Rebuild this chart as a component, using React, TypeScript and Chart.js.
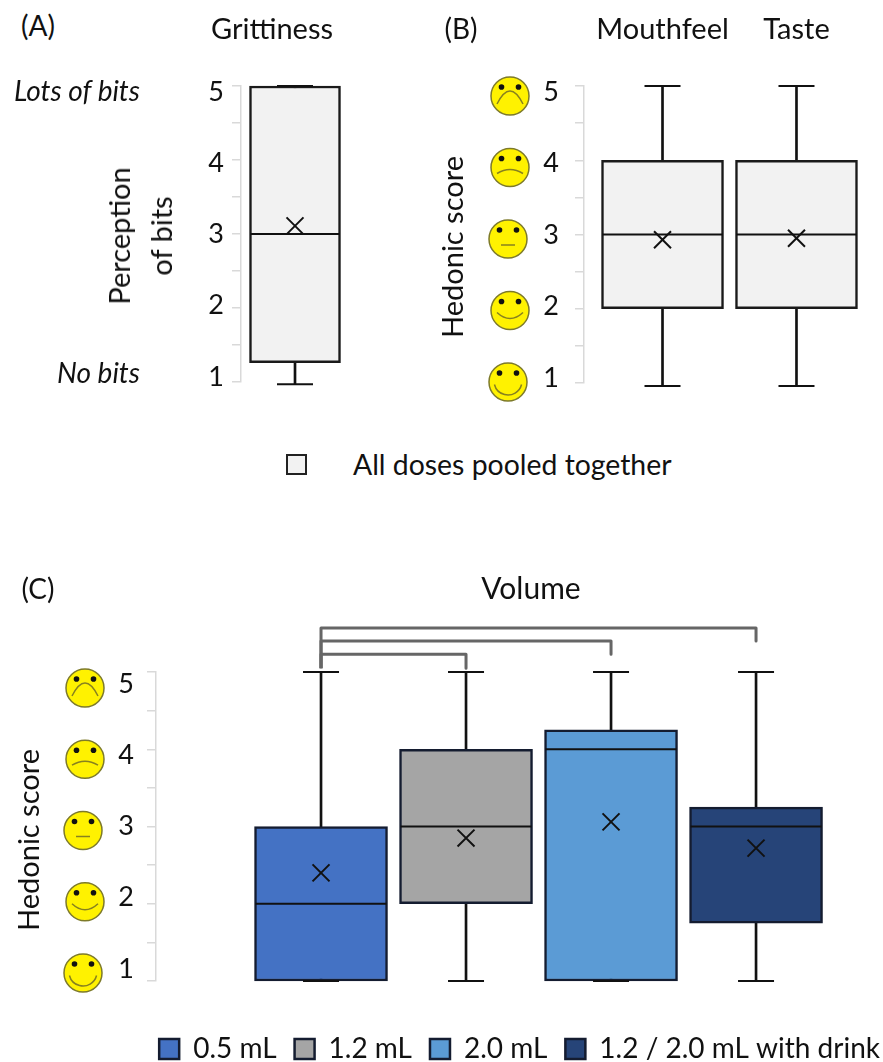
import React, { useEffect, useRef } from "react";
import { Chart, registerables } from "chart.js";

Chart.register(...registerables);

const FONT = "Lato";
const INK = "#111111";
const AXIS_GREY = "#d9d9d9";
const POOLED_FILL = "#f2f2f2";

const scores = [5, 4, 3, 2, 1];

// Panel A
const aCategories = ["Grittiness"];
const aLow = [0.97];
const aQ1 = [1.26];
const aMedian = [3];
const aQ3 = [5];
const aHigh = [5];
const aMean = [3.11];

// Panel B
const bCategories = ["Mouthfeel", "Taste"];
const bLow = [0.96, 0.96];
const bQ1 = [2, 2];
const bMedian = [3, 3];
const bQ3 = [4, 4];
const bHigh = [5, 5];
const bMean = [2.93, 2.95];

// Panel C
const cCategories = ["0.5 mL", "1.2 mL", "2.0 mL", "1.2 / 2.0 mL with drink"];
const cColors = ["#4472c4", "#a5a5a5", "#5b9bd5", "#264478"];
const cLow = [1, 1, 1, 1];
const cQ1 = [1, 2, 1, 1.75];
const cMedian = [2, 3, 4, 3];
const cQ3 = [3, 4, 4.25, 3.25];
const cHigh = [5, 5, 5, 5];
const cMean = [2.4, 2.85, 3.06, 2.72];

// significance brackets in panel C: from group 0 to each other group
const bracketTargets = [1, 2, 3];
const bracketLevels = [5.23, 5.4, 5.57];
const bracketDrops = [5.05, 5.23, 5.4];

type Stats = {
  categories: string[];
  colors: string[];
  low: number[];
  q1: number[];
  median: number[];
  q3: number[];
  high: number[];
  mean: number[];
};

function boxDatasets(s: Stats, boxWidth: number, capRadius: number, edge: string) {
  const xy = (arr: number[]) => arr.map((y, x) => ({ x, y }));
  const point = (label: string, values: number[], style: string, radius: number, width: number, order: number) => ({
    type: "scatter",
    label,
    data: xy(values),
    pointStyle: style,
    pointRadius: radius,
    pointHoverRadius: radius,
    pointBorderWidth: width,
    pointBorderColor: INK,
    pointBackgroundColor: INK,
    clip: false,
    order,
  });
  return [
    {
      type: "bar",
      label: "whisker",
      data: s.low.map((l, x) => ({ x, y: [l, s.high[x]] })),
      backgroundColor: INK,
      borderWidth: 0,
      barThickness: 2,
      grouped: false,
      clip: false,
      order: 5,
    },
    ...s.categories.map((c, i) => ({
      type: "bar",
      label: c,
      data: [{ x: i, y: [s.q1[i], s.q3[i]] }],
      backgroundColor: s.colors[i],
      borderColor: edge,
      borderWidth: 2.5,
      borderSkipped: false,
      barThickness: boxWidth,
      grouped: false,
      clip: false,
      order: 4,
    })),
    point("low cap", s.low, "line", capRadius, 2, 3),
    point("high cap", s.high, "line", capRadius, 2, 3),
    point("median", s.median, "line", boxWidth / 2 - 1, 2, 2),
    point("mean", s.mean, "crossRot", 12, 2, 1),
  ];
}

function drawFace(ctx: CanvasRenderingContext2D, x: number, y: number, score: number) {
  const r = 19;
  ctx.save();
  ctx.translate(x, y);
  ctx.beginPath();
  ctx.arc(0, 0, r, 0, Math.PI * 2);
  ctx.fillStyle = "#fff200";
  ctx.fill();
  ctx.lineWidth = 1.5;
  ctx.strokeStyle = "#7d7a2a";
  ctx.stroke();
  ctx.fillStyle = "#111111";
  for (const dx of [-8.5, 8.5]) {
    ctx.beginPath();
    ctx.arc(dx, -9, 2.8, 0, Math.PI * 2);
    ctx.fill();
  }
  ctx.beginPath();
  ctx.strokeStyle = "#87811f";
  if (score === 5) {
    ctx.moveTo(-13, 8);
    ctx.quadraticCurveTo(0, -18, 13, 8);
  } else if (score === 4) {
    ctx.moveTo(-13, 6);
    ctx.quadraticCurveTo(0, -2, 13, 6);
  } else if (score === 3) {
    ctx.moveTo(-7, 6);
    ctx.lineTo(7, 6);
  } else if (score === 2) {
    ctx.moveTo(-13, 2);
    ctx.quadraticCurveTo(0, 14, 13, 2);
  } else {
    ctx.arc(0, -1, 14, 0.08 * Math.PI, 0.92 * Math.PI);
  }
  ctx.stroke();
  ctx.restore();
}

function facesPlugin(faceX: number) {
  return {
    id: "faces",
    afterDraw(chart: any) {
      const scale = chart.scales.yLabels;
      for (const s of scores) {
        const dx = s === 3 || s === 1 ? -2 : 0;
        drawFace(chart.ctx, faceX + dx, scale.getPixelForValue(s) + 4, s);
      }
    },
  };
}

const noPadding = (s: any) => {
  s.paddingLeft = 0;
  s.paddingRight = 0;
  s.paddingTop = 0;
  s.paddingBottom = 0;
};

function yScales(labelsWidth: number, labelPad: number, labelMin: number, labelMax: number) {
  return {
    y: {
      type: "linear",
      position: "left",
      min: 1,
      max: 5,
      weight: 0,
      afterFit: (s: any) => {
        s.width = 9;
        noPadding(s);
      },
      ticks: { display: false, stepSize: 0.5 },
      border: { color: AXIS_GREY, width: 1.5 },
      grid: { drawOnChartArea: false, color: AXIS_GREY, lineWidth: 1.5, tickLength: 9 },
    },
    yLabels: {
      type: "linear",
      position: "left",
      min: labelMin,
      max: labelMax,
      weight: 1,
      afterFit: (s: any) => {
        s.width = labelsWidth;
        noPadding(s);
      },
      ticks: {
        stepSize: 1,
        includeBounds: false,
        padding: labelPad,
        color: INK,
        font: { family: FONT, size: 27 },
      },
      border: { display: false },
      grid: { display: false },
    },
  };
}

function topCategoryAxis(categories: string[], min: number, max: number, labelOffset: number) {
  return {
    type: "linear",
    position: "top",
    offset: false,
    min,
    max,
    afterFit: (s: any) => {
      s.height = 86;
      noPadding(s);
    },
    ticks: {
      stepSize: 1,
      includeBounds: false,
      autoSkip: false,
      maxRotation: 0,
      labelOffset,
      padding: 31,
      color: INK,
      font: { family: FONT, size: 29 },
      callback: (v: number) => categories[v] ?? "",
    },
    border: { display: false },
    grid: { display: false },
  };
}

const base = {
  responsive: false,
  animation: false,
  events: [],
};

function Text(p: {
  x: number;
  y: number;
  size?: number;
  italic?: boolean;
  rotate?: boolean;
  anchor?: "center" | "end" | "start";
  lines: string[];
}) {
  const shiftX = p.anchor === "end" ? "-100%" : p.anchor === "start" ? "0" : "-50%";
  return (
    <div
      style={{
        position: "absolute",
        left: p.x,
        top: p.y,
        transform: `translate(${shiftX}, -50%)${p.rotate ? " rotate(-90deg)" : ""}`,
        fontFamily: FONT,
        fontSize: p.size ?? 28,
        fontStyle: p.italic ? "italic" : "normal",
        lineHeight: p.rotate ? "42px" : "normal",
        color: INK,
        whiteSpace: "nowrap",
        textAlign: "center",
      }}
    >
      {p.lines.map((l) => (
        <div key={l}>{l}</div>
      ))}
    </div>
  );
}

export default function App() {
  const aRef = useRef<HTMLCanvasElement>(null);
  const bRef = useRef<HTMLCanvasElement>(null);
  const cRef = useRef<HTMLCanvasElement>(null);

  useEffect(() => {
    document.body.style.margin = "0";

    const chartA = new Chart(aRef.current as any, {
      data: {
        datasets: boxDatasets(
          { categories: aCategories, colors: [POOLED_FILL], low: aLow, q1: aQ1, median: aMedian, q3: aQ3, high: aHigh, mean: aMean },
          91,
          18,
          "#1a1a1a"
        ) as any,
      },
      options: {
        ...base,
        layout: { autoPadding: false, padding: { bottom: 28 } },
        plugins: { legend: { display: false }, tooltip: { enabled: false } },
        scales: {
          x: topCategoryAxis(aCategories, -1, 1.111, -23),
          ...yScales(137, 0, 0.93, 5.084),
        },
      } as any,
    });

    const chartB = new Chart(bRef.current as any, {
      data: {
        datasets: boxDatasets(
          { categories: bCategories, colors: [POOLED_FILL, POOLED_FILL], low: bLow, q1: bQ1, median: bMedian, q3: bQ3, high: bHigh, mean: bMean },
          122,
          18,
          "#1a1a1a"
        ) as any,
      },
      options: {
        ...base,
        layout: { autoPadding: false, padding: { bottom: 27 } },
        plugins: { legend: { display: false }, tooltip: { enabled: false } },
        scales: {
          x: topCategoryAxis(bCategories, -0.586, 1.586, 0),
          ...yScales(140, 8, 0.93, 5.084),
        },
      } as any,
      plugins: [facesPlugin(75)],
    });

    const bracketSets = bracketTargets.map((t, i) => ({
      type: "scatter",
      label: "bracket",
      showLine: true,
      data: [
        { x: 0, y: bracketDrops[0] },
        { x: 0, y: bracketLevels[i] },
        { x: t, y: bracketLevels[i] },
        { x: t, y: bracketDrops[i] },
      ],
      borderColor: "#666666",
      borderWidth: 3,
      borderJoinStyle: "round",
      pointRadius: 0,
      clip: false,
      order: 6,
    }));

    const chartC = new Chart(cRef.current as any, {
      data: {
        datasets: [
          ...boxDatasets(
            { categories: cCategories, colors: cColors, low: cLow, q1: cQ1, median: cMedian, q3: cQ3, high: cHigh, mean: cMean },
            133,
            18,
            "#141c30"
          ),
          ...bracketSets,
        ] as any,
      },
      options: {
        ...base,
        layout: { autoPadding: false, padding: { top: 72, bottom: 0 } },
        plugins: {
          tooltip: { enabled: false },
          legend: {
            position: "bottom",
            align: "end",
            labels: {
              filter: (item: any) => cCategories.includes(item.text),
              boxWidth: 20,
              boxHeight: 20,
              padding: 18,
              color: INK,
              font: { family: FONT, size: 28 },
            },
          },
        },
        scales: {
          x: {
            type: "linear",
            position: "bottom",
            offset: false,
            min: -1.138,
            max: 3.979,
            afterFit: (s: any) => {
              s.height = 36;
              noPadding(s);
            },
            ticks: { display: false, stepSize: 1 },
            border: { display: false },
            grid: { display: false },
          },
          ...yScales(147, 5, 0.832, 5.168),
        },
      } as any,
      plugins: [facesPlugin(85)],
    });

    return () => {
      chartA.destroy();
      chartB.destroy();
      chartC.destroy();
    };
  }, []);

  const canvasStyle = (left: number, top: number): React.CSSProperties => ({ position: "absolute", left, top });

  return (
    <div style={{ position: "relative", width: 883, height: 1062, overflow: "hidden", background: "#fff" }}>
      <canvas ref={aRef} width={260} height={410} style={canvasStyle(95, 0)} />
      <canvas ref={bRef} width={440} height={410} style={canvasStyle(435, 0)} />
      <canvas ref={cRef} width={898} height={473} style={canvasStyle(0, 600)} />

      <Text x={38} y={25} lines={["(A)"]} />
      <Text x={461} y={28} lines={["(B)"]} />
      <Text x={38} y={588} lines={["(C)"]} />
      <Text x={531} y={587} size={30} lines={["Volume"]} />
      <Text x={140} y={90} anchor="end" italic lines={["Lots of bits"]} />
      <Text x={140} y={372} anchor="end" italic lines={["No bits"]} />
      <Text x={140} y={236} rotate size={29} lines={["Perception", "of bits"]} />
      <Text x={452} y={247} rotate size={29} lines={["Hedonic score"]} />
      <Text x={28} y={840} rotate size={29} lines={["Hedonic score"]} />

      <div
        style={{
          position: "absolute",
          left: 286,
          top: 454,
          width: 17,
          height: 17,
          background: POOLED_FILL,
          border: "2px solid #222",
        }}
      />
      <Text x={353} y={464} anchor="start" size={28.4} lines={["All doses pooled together"]} />
    </div>
  );
}
